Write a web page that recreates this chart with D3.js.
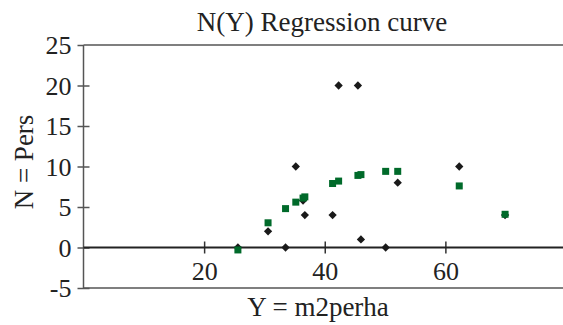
<!DOCTYPE html>
<html>
<head>
<meta charset="utf-8">
<script src="https://cdn.jsdelivr.net/npm/d3@7/dist/d3.min.js"></script>
<style>
  html, body { margin: 0; padding: 0; background: #fff; }
  svg { display: block; }
  text { font-family: "Liberation Serif", "DejaVu Serif", serif; fill: #222; }
</style>
</head>
<body>
<svg id="chart" width="563" height="325"></svg>
<script>
// Data
const xValues      = [25.6, 30.6, 33.5, 35.2, 36.4, 36.7, 41.3, 42.3, 45.5, 46.0, 50.1, 52.1, 62.3, 69.9];
const observedN    = [0,    2,    0,    10,   5.8,  4,    4,    20,   20,   1,    0,    8,    10,   4];
const regressionN  = [-0.3, 3.05, 4.8,  5.6,  6.1,  6.25, 7.9,  8.2,  8.9,  9.0,  9.4,  9.4,  7.6,  4.1];
const xTicks = [20, 40, 60];
const yTicks = [-5, 0, 5, 10, 15, 20, 25];
const title = "N(Y) Regression curve";
const xLabel = "Y = m2perha";
const yLabel = "N = Pers";

(function () {
const svg = d3.select("#chart");
const mLeft = 83.5, mRight = 566, mTop = 45, mBottom = 288;

const x = d3.scaleLinear().domain([0, 80]).range([mLeft, mRight]);
const y = d3.scaleLinear().domain([-5, 25]).range([mBottom, mTop]);

const frameColor = "#555";

// Frame: top, left, bottom lines
svg.append("line").attr("x1", mLeft).attr("x2", 563).attr("y1", y(25)).attr("y2", y(25))
  .attr("stroke", frameColor).attr("stroke-width", 1.5);
svg.append("line").attr("x1", mLeft).attr("x2", 563).attr("y1", y(-5)).attr("y2", y(-5))
  .attr("stroke", frameColor).attr("stroke-width", 1.5);
svg.append("line").attr("x1", mLeft).attr("x2", mLeft).attr("y1", y(25)).attr("y2", y(-5))
  .attr("stroke", frameColor).attr("stroke-width", 1.5);

// Y axis (ticks crossing the line)
const yAxis = d3.axisLeft(y).tickValues(yTicks).tickFormat(d => String(d)).tickSize(0).tickPadding(12);
const gy = svg.append("g").attr("transform", `translate(${mLeft},0)`).call(yAxis);
gy.select(".domain").remove();
gy.selectAll(".tick line").remove();
gy.selectAll(".tick text").attr("font-size", 26).attr("dy", "0.34em")
  .attr("font-family", "Liberation Serif").attr("fill", "#222");
gy.selectAll(".tick").filter(d => d !== 25).append("line")
  .attr("x1", -6).attr("x2", 6).attr("stroke", frameColor).attr("stroke-width", 1.5);
gy.selectAll(".tick").filter(d => d === 25).append("line")
  .attr("x1", -6).attr("x2", 0).attr("stroke", frameColor).attr("stroke-width", 1.5);

// Zero line with x axis ticks
const xAxis = d3.axisBottom(x).tickValues(xTicks).tickFormat(d => String(d)).tickSize(0).tickPadding(14);
const gx = svg.append("g").attr("transform", `translate(0,${y(0)})`).call(xAxis);
gx.select(".domain").remove();
gx.append("line").attr("x1", mLeft).attr("x2", 563).attr("y1", 0).attr("y2", 0)
  .attr("stroke", "#222").attr("stroke-width", 2);
gx.selectAll(".tick line").remove();
gx.selectAll(".tick").append("line").attr("y1", -6).attr("y2", 6)
  .attr("stroke", "#333").attr("stroke-width", 1.5);
gx.selectAll(".tick text").attr("font-size", 26).attr("dy", "0.72em")
  .attr("font-family", "Liberation Serif").attr("fill", "#222");

// Observed points: black diamonds
svg.append("g").selectAll("path").data(xValues).join("path")
  .attr("transform", (d, i) => `translate(${x(d)},${y(observedN[i])})`)
  .attr("d", d3.symbol(d3.symbolDiamond2, 44))
  .attr("fill", "#1a1a1a");

// Regression points: green squares
svg.append("g").selectAll("rect").data(xValues).join("rect")
  .attr("x", d => x(d) - 3.5)
  .attr("y", (d, i) => y(regressionN[i]) - 3.5)
  .attr("width", 7).attr("height", 7)
  .attr("fill", "#006a2a");

// Titles
svg.append("text").attr("x", 322).attr("y", 31).attr("text-anchor", "middle")
  .attr("font-size", 27).text(title);
svg.append("text").attr("x", 318).attr("y", 316).attr("text-anchor", "middle")
  .attr("font-size", 27).text(xLabel);
svg.append("text").attr("transform", "translate(33,162) rotate(-90)").attr("text-anchor", "middle")
  .attr("font-size", 27).text(yLabel);
})();
</script>
</body>
</html>
